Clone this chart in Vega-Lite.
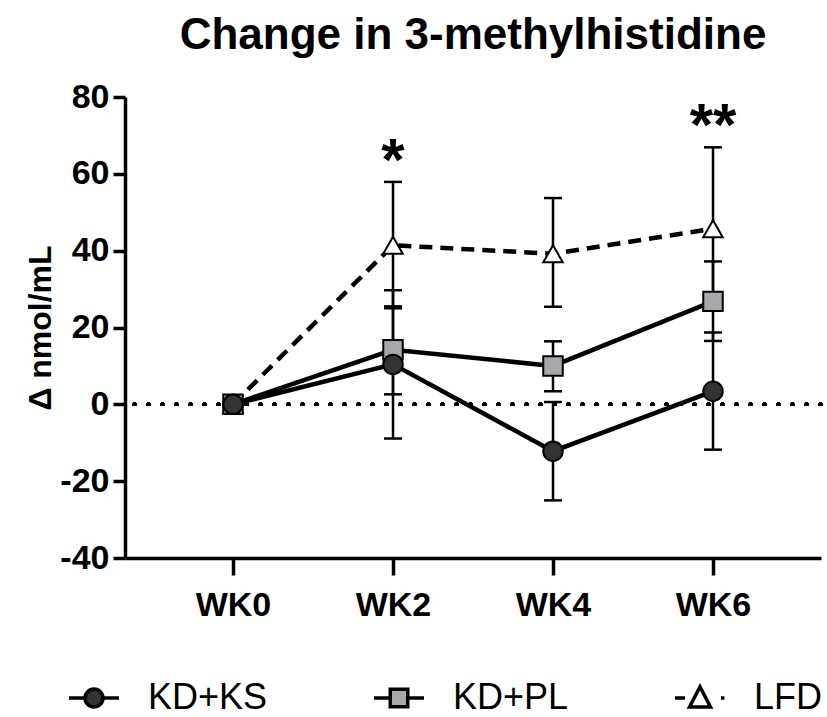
{
  "$schema": "https://vega.github.io/schema/vega-lite/v6.json",
  "autosize": "none",
  "width": 696,
  "height": 461,
  "padding": {"left": 125, "top": 97, "right": 6, "bottom": 159},
  "background": "white",
  "title": {
    "text": "Change in 3-methylhistidine",
    "font": "Liberation Sans",
    "fontSize": 44,
    "fontWeight": "bold",
    "color": "black",
    "anchor": "middle",
    "offset": 22
  },
  "datasets": {
    "means": [
      {"group": "LFD", "week": "WK0", "mean": 0},
      {"group": "LFD", "week": "WK2", "mean": 41.4, "lo": 25.0, "hi": 57.9},
      {"group": "LFD", "week": "WK4", "mean": 39.2, "lo": 25.4, "hi": 53.7},
      {"group": "LFD", "week": "WK6", "mean": 45.7, "lo": 24.5, "hi": 66.9},
      {"group": "KD+PL", "week": "WK0", "mean": 0},
      {"group": "KD+PL", "week": "WK2", "mean": 14.2, "lo": 2.6, "hi": 25.5},
      {"group": "KD+PL", "week": "WK4", "mean": 10.0, "lo": 3.4, "hi": 16.4},
      {"group": "KD+PL", "week": "WK6", "mean": 26.8, "lo": 16.5, "hi": 37.2},
      {"group": "KD+KS", "week": "WK0", "mean": 0},
      {"group": "KD+KS", "week": "WK2", "mean": 10.4, "lo": -8.9, "hi": 29.7},
      {"group": "KD+KS", "week": "WK4", "mean": -12.2, "lo": -25.0, "hi": 0.6},
      {"group": "KD+KS", "week": "WK6", "mean": 3.4, "lo": -11.8, "hi": 18.7}
    ],
    "stars": [
      {"week": "WK2", "y": 58.5, "label": "*"},
      {"week": "WK6", "y": 67.5, "label": "**"}
    ]
  },
  "data": {"name": "means"},
  "layer": [
    {
      "mark": {"type": "rule", "color": "black", "strokeWidth": 3.5, "strokeDash": [1, 13], "strokeCap": "round"},
      "encoding": {
        "y": {"datum": 0, "type": "quantitative", "title": "Δ nmol/mL"}
      }
    },
    {
      "transform": [{"filter": "datum.lo != null"}],
      "mark": {
        "type": "errorbar",
        "opacity": 1,
        "ticks": {"size": 18, "thickness": 2.5, "color": "black", "opacity": 1},
        "rule": {"strokeWidth": 2.5, "color": "black", "opacity": 1}
      },
      "encoding": {
        "x": {
          "field": "week",
          "type": "nominal",
          "scale": {"type": "point", "padding": 0.675},
          "axis": {"title": null, "labelAngle": 0, "tickSize": 17, "labelPadding": 13}
        },
        "y": {
          "field": "lo",
          "type": "quantitative",
          "title": "Δ nmol/mL",
          "scale": {"domain": [-40, 80], "nice": false},
          "axis": {"values": [-40, -20, 0, 20, 40, 60, 80], "labelExpr": "'' + datum.value", "tickSize": 12, "labelPadding": 4, "titlePadding": 2}
        },
        "y2": {"field": "hi"}
      }
    },
    {
      "transform": [{"filter": "datum.group == 'LFD'"}],
      "mark": {"type": "line", "color": "black", "strokeWidth": 4.5, "strokeDash": [13, 8]},
      "encoding": {
        "x": {"field": "week", "type": "nominal"},
        "y": {"field": "mean", "type": "quantitative", "title": "Δ nmol/mL"},
        "detail": {"field": "group"}
      }
    },
    {
      "transform": [{"filter": "datum.group != 'LFD'"}],
      "mark": {"type": "line", "color": "black", "strokeWidth": 4.5},
      "encoding": {
        "x": {"field": "week", "type": "nominal"},
        "y": {"field": "mean", "type": "quantitative", "title": "Δ nmol/mL"},
        "detail": {"field": "group"}
      }
    },
    {
      "mark": {"type": "point", "filled": true, "stroke": "black", "strokeWidth": 2, "size": 380, "opacity": 1},
      "encoding": {
        "x": {"field": "week", "type": "nominal"},
        "y": {"field": "mean", "type": "quantitative", "title": "Δ nmol/mL"},
        "shape": {
          "field": "group",
          "type": "nominal",
          "scale": {"domain": ["KD+KS", "KD+PL", "LFD"], "range": ["circle", "square", "triangle-up"]},
          "legend": null
        },
        "fill": {
          "field": "group",
          "type": "nominal",
          "scale": {"domain": ["KD+KS", "KD+PL", "LFD"], "range": ["#333333", "#a8a8ac", "#ffffff"]},
          "legend": null
        }
      }
    },
    {
      "mark": {"type": "point", "filled": true, "stroke": "black", "opacity": 0},
      "encoding": {
        "x": {"field": "week", "type": "nominal"},
        "y": {"field": "mean", "type": "quantitative", "title": "Δ nmol/mL"},
        "shape": {
          "field": "group",
          "type": "nominal",
          "scale": {
            "domain": ["KD+KS", "KD+PL", "LFD"],
            "range": [
              "M-1,0H-0.36M0.36,0H1M0.36,0A0.36,0.36,0,1,1,-0.36,0A0.36,0.36,0,1,1,0.36,0Z",
              "M-1,0H-0.35M0.35,0H1M-0.35,-0.35H0.35V0.35H-0.35Z",
              "M-1,0H-0.6M0.84,0H0.98M0,-0.45L0.42,0.36H-0.42Z"
            ]
          },
          "legend": {
            "encode": {
              "symbols": {
                "stroke": {"value": "black"},
                "strokeWidth": {"value": 3.5}
              }
            }
          }
        },
        "fill": {
          "field": "group",
          "type": "nominal",
          "scale": {"domain": ["KD+KS", "KD+PL", "LFD"], "range": ["#333333", "#a8a8ac", "#ffffff"]},
          "legend": {
            "encode": {
              "symbols": {
                "stroke": {"value": "black"},
                "strokeWidth": {"value": 3.5}
              }
            }
          }
        }
      }
    },
    {
      "data": {"name": "stars"},
      "mark": {"type": "text", "font": "Liberation Sans", "fontSize": 60, "fontWeight": "bold", "color": "black", "baseline": "alphabetic", "align": "center"},
      "encoding": {
        "x": {"field": "week", "type": "nominal"},
        "y": {"field": "y", "type": "quantitative", "title": "Δ nmol/mL"},
        "text": {"field": "label"}
      }
    }
  ],
  "resolve": {
    "scale": {"shape": "independent", "fill": "independent"},
    "legend": {"shape": "independent", "fill": "independent"}
  },
  "config": {
    "view": {"stroke": null},
    "axis": {
      "grid": false,
      "domainColor": "black",
      "domainWidth": 3.5,
      "tickColor": "black",
      "tickWidth": 3.5,
      "labelFont": "Liberation Sans",
      "labelFontSize": 34,
      "labelFontWeight": "bold",
      "labelColor": "black",
      "titleFont": "Liberation Sans",
      "titleFontSize": 32,
      "titleFontWeight": "bold",
      "titleColor": "black"
    },
    "legend": {
      "orient": "none",
      "legendX": -58,
      "legendY": 574,
      "direction": "horizontal",
      "title": null,
      "symbolSize": 2500,
      "symbolStrokeWidth": 3.5,
      "symbolOpacity": 1,
      "labelFont": "Liberation Sans",
      "labelFontSize": 36,
      "labelColor": "black",
      "labelOffset": 27,
      "columnPadding": 99,
      "labelLimit": 400
    }
  }
}
